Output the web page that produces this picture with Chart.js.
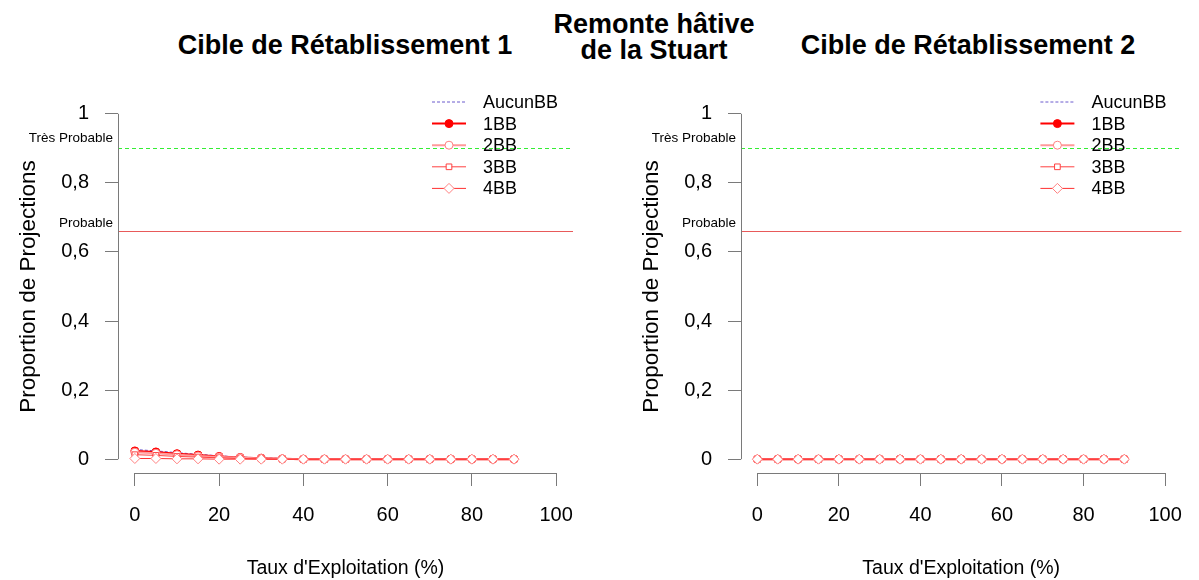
<!DOCTYPE html>
<html lang="fr">
<head>
<meta charset="utf-8">
<script src="https://cdn.jsdelivr.net/npm/chart.js@4/dist/chart.umd.min.js"></script>
<style>
  body { margin: 0; background: #fff; width: 1199px; height: 580px; position: relative; overflow: hidden; }
  canvas { position: absolute; top: 0; }
  .ttl { position: absolute; font: bold 27px "Liberation Sans", Arial, sans-serif; color: #000;
         text-align: center; line-height: 26px; transform: translateX(-50%); white-space: nowrap; }
</style>
</head>
<body>
<div class="ttl" style="left:345px; top:32px">Cible de Rétablissement 1</div>
<div class="ttl" style="left:654px; top:11px">Remonte hâtive<br>de la Stuart</div>
<div class="ttl" style="left:968px; top:32px">Cible de Rétablissement 2</div>
<canvas id="c1" width="600" height="580" style="left:0"></canvas>
<canvas id="c2" width="576" height="580" style="left:623px"></canvas>
<script>
// harvest rate (%) and tick labels
const exploitation = [0, 5, 10, 15, 20, 25, 30, 35, 40, 45, 50, 55, 60, 65, 70, 75, 80, 85, 90];
const xTicks = [0, 20, 40, 60, 80, 100];
const yTicks = [0, 0.2, 0.4, 0.6, 0.8, 1];

// probability thresholds
const tresProbable = 0.9;
const probable = 0.66;

const seriesNames = ['AucunBB', '1BB', '2BB', '3BB', '4BB'];

// target 1: proportion of projections meeting the target
const cible1_aucun = [0.028, 0.024, 0.019, 0.014, 0.010, 0.006, 0.004, 0.002, 0.001, 0, 0, 0, 0, 0, 0, 0, 0, 0, 0];
const cible1_bb1   = [0.024, 0.021, 0.016, 0.012, 0.008, 0.005, 0.003, 0.001, 0, 0, 0, 0, 0, 0, 0, 0, 0, 0, 0];
const cible1_bb2   = [0.020, 0.017, 0.013, 0.009, 0.006, 0.004, 0.002, 0.001, 0, 0, 0, 0, 0, 0, 0, 0, 0, 0, 0];
const cible1_bb3   = [0.013, 0.011, 0.008, 0.006, 0.004, 0.002, 0.001, 0, 0, 0, 0, 0, 0, 0, 0, 0, 0, 0, 0];
const cible1_bb4   = [0.002, 0.002, 0.001, 0.001, 0, 0, 0, 0, 0, 0, 0, 0, 0, 0, 0, 0, 0, 0, 0];

// target 2
const cible2_aucun = [0, 0, 0, 0, 0, 0, 0, 0, 0, 0, 0, 0, 0, 0, 0, 0, 0, 0, 0];
const cible2_bb1   = [0, 0, 0, 0, 0, 0, 0, 0, 0, 0, 0, 0, 0, 0, 0, 0, 0, 0, 0];
const cible2_bb2   = [0, 0, 0, 0, 0, 0, 0, 0, 0, 0, 0, 0, 0, 0, 0, 0, 0, 0, 0];
const cible2_bb3   = [0, 0, 0, 0, 0, 0, 0, 0, 0, 0, 0, 0, 0, 0, 0, 0, 0, 0, 0];
const cible2_bb4   = [0, 0, 0, 0, 0, 0, 0, 0, 0, 0, 0, 0, 0, 0, 0, 0, 0, 0, 0];

const FONT = '"Liberation Sans", Arial, sans-serif';
const AXIS = '#7a7a7a';

const STYLES = [
  { borderColor: '#6a5acd', borderWidth: 1, borderDash: [3, 2], pointRadius: 0, pointStyle: false },
  { borderColor: '#ff0000', borderWidth: 2, pointStyle: 'circle', pointRadius: 4, pointBackgroundColor: '#ff0000', pointBorderColor: '#ff0000' },
  { borderColor: '#ff9a9a', borderWidth: 2, pointStyle: 'circle', pointRadius: 4, pointBackgroundColor: '#fff', pointBorderColor: '#ff7f7f' },
  { borderColor: '#ff4040', borderWidth: 1, pointStyle: 'rect', pointRadius: 4, pointBackgroundColor: '#fff', pointBorderColor: '#ff4040' },
  { borderColor: '#ff3030', borderWidth: 1, pointStyle: 'rectRot', pointRadius: 5, pointBackgroundColor: '#fff', pointBorderColor: '#ff8080' },
];

const fmt = (v) => String(Math.round(v * 10) / 10).replace('.', ',');

// axis lines only span the tick range, plus threshold lines and the legend
const decor = {
  id: 'decor',
  beforeDatasetsDraw(chart) {
    const { ctx, chartArea: a, scales: { y } } = chart;
    ctx.save();
    ctx.lineWidth = 1;
    ctx.strokeStyle = '#33ee33';
    ctx.setLineDash([4, 3]);
    let py = Math.round(y.getPixelForValue(tresProbable)) + 0.5;
    ctx.beginPath(); ctx.moveTo(a.left, py); ctx.lineTo(a.right, py); ctx.stroke();
    ctx.setLineDash([]);
    ctx.strokeStyle = '#e85a5a';
    py = Math.round(y.getPixelForValue(probable)) + 0.5;
    ctx.beginPath(); ctx.moveTo(a.left, py); ctx.lineTo(a.right, py); ctx.stroke();

    ctx.fillStyle = '#000';
    ctx.font = '13.5px ' + FONT;
    ctx.textAlign = 'right';
    ctx.textBaseline = 'alphabetic';
    ctx.fillText('Très Probable', a.left - 5, y.getPixelForValue(tresProbable) - 6);
    ctx.fillText('Probable', a.left - 5, y.getPixelForValue(probable) - 4);
    ctx.restore();
  },
  afterDraw(chart) {
    const { ctx, chartArea: a, scales: { x, y } } = chart;
    ctx.save();
    ctx.strokeStyle = AXIS;
    ctx.lineWidth = 1;
    ctx.beginPath();
    ctx.moveTo(x.getPixelForValue(0), a.bottom + 0.5);
    ctx.lineTo(x.getPixelForValue(100), a.bottom + 0.5);
    ctx.moveTo(a.left + 0.5, y.getPixelForValue(0));
    ctx.lineTo(a.left + 0.5, y.getPixelForValue(1));
    ctx.stroke();

    // legend
    const x0 = a.right - 141, x1 = a.right - 107, tx = a.right - 90;
    ctx.font = '18px ' + FONT;
    ctx.textAlign = 'left';
    ctx.textBaseline = 'middle';
    chart.data.datasets.forEach((ds, i) => {
      const ry = 102 + i * 21.6;
      ctx.strokeStyle = ds.borderColor;
      ctx.lineWidth = ds.borderWidth;
      ctx.setLineDash(ds.borderDash || []);
      ctx.beginPath(); ctx.moveTo(x0, ry); ctx.lineTo(x1, ry); ctx.stroke();
      ctx.setLineDash([]);
      if (ds.pointStyle) {
        ctx.fillStyle = ds.pointBackgroundColor;
        ctx.strokeStyle = ds.pointBorderColor;
        ctx.lineWidth = 1;
        Chart.helpers.drawPoint(ctx, { pointStyle: ds.pointStyle, radius: ds.pointRadius, borderWidth: 1, rotation: 0 }, (x0 + x1) / 2, ry);
      }
      ctx.fillStyle = '#000';
      ctx.fillText(ds.label, tx, ry + 1);
    });
    ctx.restore();
  },
};

function panel(canvas, series, padRight) {
  return new Chart(canvas, {
    type: 'line',
    data: {
      datasets: series.map((vals, i) => ({
        label: seriesNames[i],
        data: exploitation.map((e, k) => ({ x: e, y: vals[k] })),
        fill: false,
        tension: 0,
        order: series.length - i,
        pointBorderWidth: 1,
        ...STYLES[i],
      })),
    },
    options: {
      responsive: false,
      animation: false,
      events: [],
      layout: { padding: { top: 100, right: padRight, left: 0, bottom: 0 } },
      plugins: { legend: { display: false }, tooltip: { enabled: false } },
      scales: {
        x: {
          type: 'linear', min: -4, max: 104,
          afterBuildTicks: (s) => { s.ticks = xTicks.map((v) => ({ value: v })); },
          afterFit: (s) => { s.height = 107; },
          grid: { drawOnChartArea: false, tickLength: 13, color: AXIS },
          border: { display: false },
          ticks: { autoSkip: false, maxRotation: 0, padding: 17, color: '#000', font: { family: FONT, size: 20 } },
          title: { display: true, text: "Taux d'Exploitation (%)", color: '#000', padding: { top: 0, bottom: 0 }, font: { family: FONT, size: 19.5 } },
        },
        y: {
          type: 'linear', min: -0.04, max: 1.04,
          afterBuildTicks: (s) => { s.ticks = yTicks.map((v) => ({ value: v })); },
          afterFit: (s) => { s.width = 118; },
          grid: { drawOnChartArea: false, tickLength: 13, color: AXIS },
          border: { display: false },
          ticks: { autoSkip: false, padding: 16, color: '#000', font: { family: FONT, size: 20 }, callback: (v) => fmt(v) },
          title: { display: true, text: 'Proportion de Projections', color: '#000', padding: { top: 15, bottom: 0 }, font: { family: FONT, size: 22.5 } },
        },
      },
    },
    plugins: [decor],
  });
}

panel(document.getElementById('c1'), [cible1_aucun, cible1_bb1, cible1_bb2, cible1_bb3, cible1_bb4], 27);
panel(document.getElementById('c2'), [cible2_aucun, cible2_bb1, cible2_bb2, cible2_bb3, cible2_bb4], 3);
</script>
</body>
</html>
